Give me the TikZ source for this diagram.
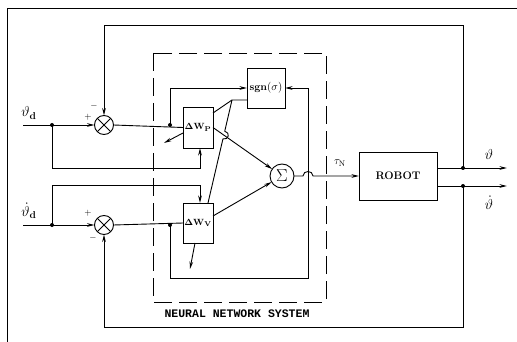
\documentclass[tikz,border=0pt]{standalone}
\usepackage{amsmath}
\usepackage[no-math]{fontspec}
\newfontfamily\monob{Liberation Mono}
\usetikzlibrary{arrows.meta}
\begin{document}
\begin{tikzpicture}[x=1pt,y=-1pt,line width=0.9pt,
  arr/.style={-{Stealth[length=7.5pt,width=3.6pt]}},
  blk/.style={draw,rectangle,inner sep=0pt,outer sep=0pt},
  mix/.style={draw,circle,minimum size=19pt,inner sep=0pt,outer sep=0pt},
  jdot/.style={circle,fill,inner sep=0pt,minimum size=4pt},
  lbl/.style={inner sep=0pt}]
\useasboundingbox (0,0) rectangle (517,342);
% frame
\draw (7,342) -- (7,8) -- (517,8);
% neural network dashed box
\draw[dash pattern=on 18pt off 7pt] (153,53) rectangle (326,302);
\node[lbl,font=\monob\bfseries\fontsize{11.5}{13}\selectfont] (nn) at (237,314) {NEURAL NETWORK SYSTEM};
% blocks
\node[blk,minimum width=30pt,minimum height=41pt,font=\fontsize{9.5}{10}\selectfont] (P) at (198,127.5) {$\mathbf{\Delta W}_{\mathbf P}$};
\node[blk,minimum width=30pt,minimum height=40pt,font=\fontsize{9.5}{10}\selectfont] (V) at (198,223) {$\mathbf{\Delta W}_{\mathbf V}$};
\node[blk,minimum width=38pt,minimum height=40pt,font=\fontsize{10.5}{12}\selectfont] (S) at (266,88) {\textbf{sgn}$(\sigma)$};
\node[blk,minimum width=78pt,minimum height=48pt,font=\bfseries\fontsize{11}{13}\selectfont] (R) at (398,176) {ROBOT};
\node[mix] (c1) at (104,125) {};
\node[mix] (c2) at (104,225) {};
\draw (c1.north west) -- (c1.south east) (c1.north east) -- (c1.south west);
\draw (c2.north west) -- (c2.south east) (c2.north east) -- (c2.south west);
\node[draw,circle,minimum size=24pt,inner sep=0pt,outer sep=0pt,font=\fontsize{16}{17}\selectfont] (Sig) at (282,176) {$\Sigma$};
% junction dots
\node[jdot] (d1) at (52,125) {};
\node[jdot] (d2) at (170,125) {};
\node[jdot] (d3) at (52,225) {};
\node[jdot] (d4) at (170,225) {};
\node[jdot] (o1) at (463,168) {};
\node[jdot] (o2) at (463,186) {};
% coordinates
\coordinate (in1) at (23,125);
\coordinate (in2) at (23,225);
\coordinate (pb) at (200,168);
\coordinate (pv) at (200,185);
\coordinate (t1) at (463,25);
\coordinate (b1) at (463,327);
\coordinate (sr) at (308,278);
\coordinate (sl) at (247,100);
\coordinate (sj) at (232,100);
\coordinate (pw) at (213,113);
\coordinate (vt) at (208,203);
\coordinate (ve) at (213,216);
\coordinate (pa) at (183,133);
\coordinate (paa) at (164,143);
\coordinate (va) at (195,243);
\coordinate (vaa) at (190,269);
\coordinate (r1) at (437,168);
\coordinate (r2) at (437,186);
\coordinate (e1) at (507,168);
\coordinate (e2) at (507,186);
% upper loop
\draw[arr] (in1) -- (c1.west);
\draw (c1.east) -- (P.west);
\draw[arr] (d1.center) |- (pb) -- (pb |- P.south);
\draw[arr] (d2.center) |- (S.west);
\draw[arr] (o1.center) -- (t1) -| (c1.north);
% lower loop
\draw[arr] (in2) -- (c2.west);
\draw (c2.east) -- (V.west);
\draw[arr] (d3.center) |- (pv) -- (pv |- V.north);
\draw[arr] (d4.center) |- (sr) |- (S.east);
\draw[arr] (o2.center) -- (b1) -| (c2.south);
% sgn outputs
\draw (sl) -- (sj) -- (pw);
\draw (sj) -- (224.75,131.17) .. controls (230.6,132.5) and (228.8,140.3) .. (222.92,138.96) -- (vt);
% weight adaption arrows
\draw[arr] (pa) -- (paa);
\draw[arr] (va) -- (vaa);
% to sum
\draw[arr] (P.east) -- (Sig);
\draw[arr] (ve) -- (Sig);
\draw[arr] (Sig.east) -- (303,176) .. controls (303,170) and (313,170) .. (313,176) -- (R.west);
% outputs
\draw[arr] (r1) -- (e1);
\draw[arr] (r2) -- (e2);
% labels
\node[lbl,font=\fontsize{14}{15}\selectfont] (l1) at (29,113) {$\vartheta_{\mathbf d}$};
\node[lbl,font=\fontsize{14}{15}\selectfont] (l2) at (29,211) {$\dot\vartheta_{\mathbf d}$};
\node[lbl,font=\fontsize{14}{15}\selectfont] (l3) at (489,155) {$\vartheta$};
\node[lbl,font=\fontsize{14}{15}\selectfont] (l4) at (489,203) {$\dot\vartheta$};
\node[lbl,font=\fontsize{11}{12}\selectfont] (l5) at (340,163) {$\tau_{\mathrm N}$};
\node[lbl,font=\bfseries\fontsize{9}{10}\selectfont] (s1) at (94,106) {$-$};
\node[lbl,font=\bfseries\fontsize{9}{10}\selectfont] (s2) at (88,117) {$+$};
\node[lbl,font=\bfseries\fontsize{9}{10}\selectfont] (s3) at (88,213) {$+$};
\node[lbl,font=\bfseries\fontsize{9}{10}\selectfont] (s4) at (93,238) {$-$};
\end{tikzpicture}
\end{document}
